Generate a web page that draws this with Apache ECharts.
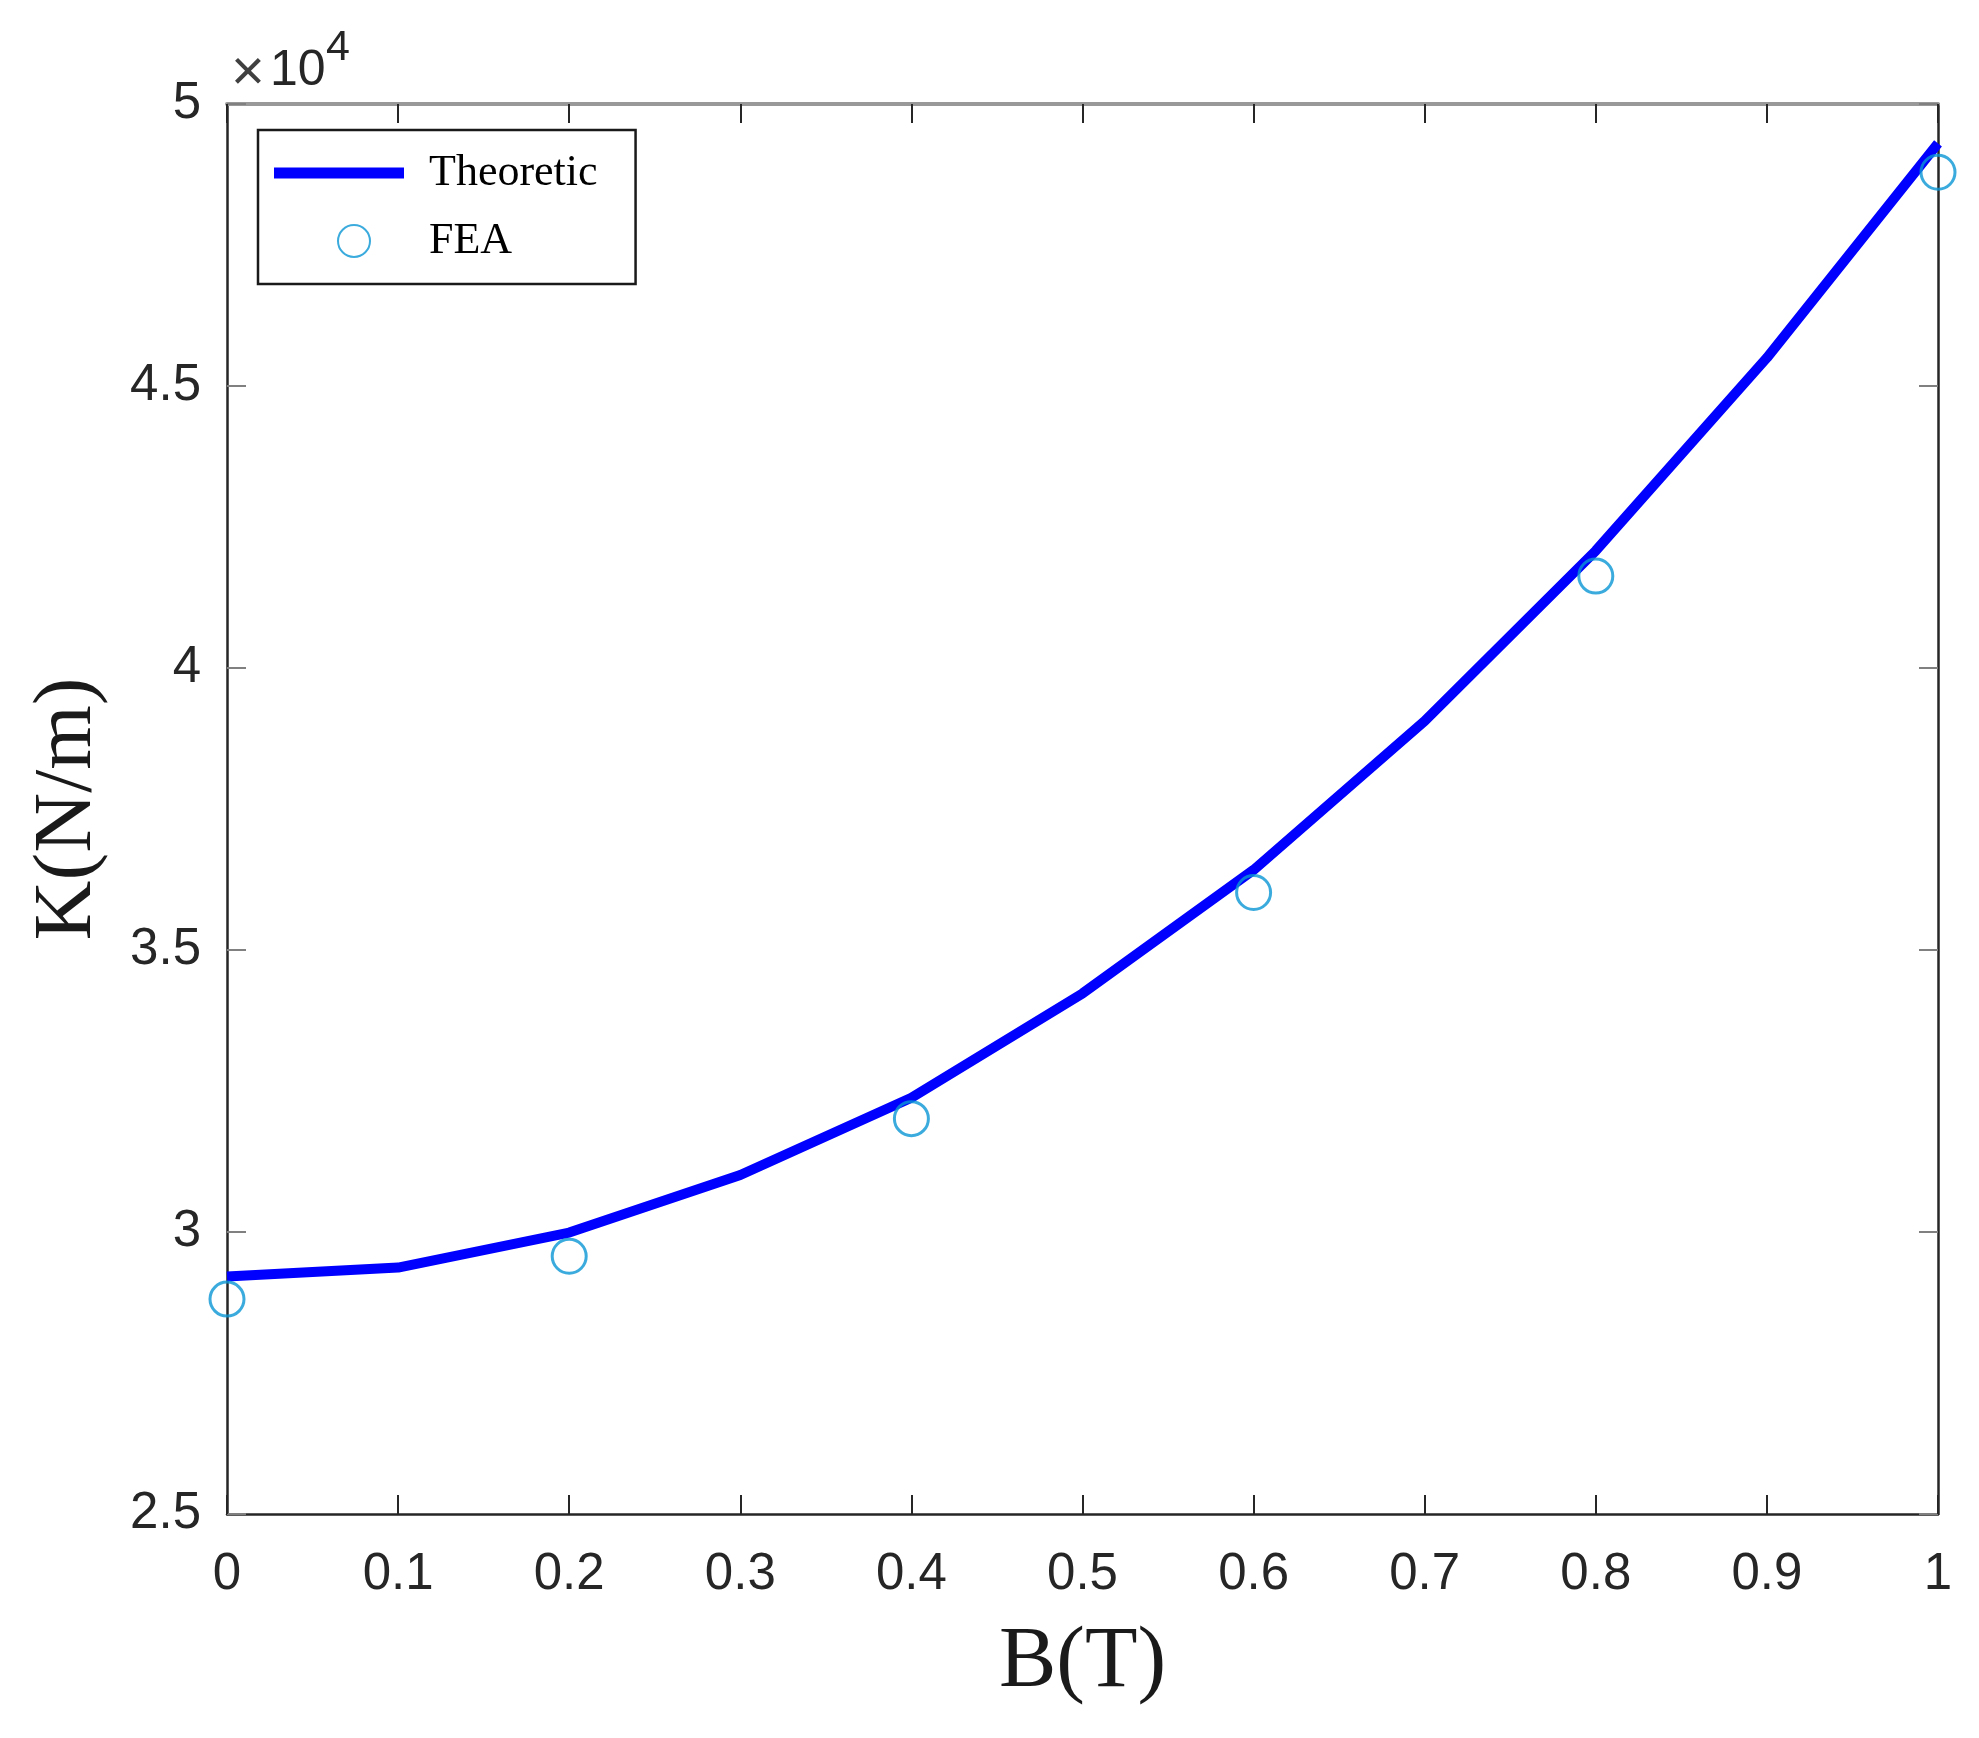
<!DOCTYPE html>
<html>
<head>
<meta charset="utf-8">
<script src="https://cdn.jsdelivr.net/npm/echarts@6/dist/echarts.min.js"></script>
<style>
html,body{margin:0;padding:0;background:#fff;}
#chart{width:1979px;height:1738px;}
</style>
</head>
<body>
<div id="chart"></div>
<script>
// ---- data ----
const theoreticB = [0, 0.1, 0.2, 0.3, 0.4, 0.5, 0.6, 0.7, 0.8, 0.9, 1.0];
const theoreticK = [29210, 29370, 29990, 31010, 32380, 34230, 36420, 39060, 42080, 45500, 49300];
const feaB = [0, 0.2, 0.4, 0.6, 0.8, 1.0];
const feaK = [28810, 29570, 32010, 36020, 41630, 48790];
const xTickLabels = ['0', '0.1', '0.2', '0.3', '0.4', '0.5', '0.6', '0.7', '0.8', '0.9', '1'];
const yTickLabels = ['2.5', '3', '3.5', '4', '4.5', '5'];
const yTickValues = [25000, 30000, 35000, 40000, 45000, 50000];

const chart = echarts.init(document.getElementById('chart'), null, {renderer: 'canvas'});

const sans = 'Liberation Sans, Arial, sans-serif';
const serif = 'Liberation Serif, Times New Roman, serif';

function xFmt(v) {
  const i = Math.round(v * 10);
  return xTickLabels[i] !== undefined ? xTickLabels[i] : '';
}
function yFmt(v) {
  const i = yTickValues.indexOf(Math.round(v));
  return i >= 0 ? yTickLabels[i] : '';
}

const option = {
  backgroundColor: '#ffffff',
  animation: false,
  grid: {left: 227, right: 41, top: 104, bottom: 224, containLabel: false},
  xAxis: [{
    type: 'value', min: 0, max: 1, interval: 0.1,
    name: 'B(T)', nameLocation: 'middle', nameGap: 106,
    nameTextStyle: {fontFamily: serif, fontSize: 86, color: '#1a1a1a'},
    axisLine: {show: true, onZero: false, lineStyle: {color: '#262626', width: 2.5}},
    axisTick: {show: true, inside: true, length: 19, lineStyle: {color: '#262626', width: 2}},
    axisLabel: {formatter: xFmt, fontFamily: sans, fontSize: 51, color: '#262626', margin: 35},
    splitLine: {show: false}
  }, {
    type: 'value', position: 'top', min: 0, max: 1, interval: 0.1,
    axisLine: {show: true, onZero: false, lineStyle: {color: '#999999', width: 4}},
    axisTick: {show: true, inside: true, length: 19, lineStyle: {color: '#262626', width: 2}},
    axisLabel: {show: false},
    splitLine: {show: false}
  }],
  yAxis: [{
    type: 'value', min: 25000, max: 50000, interval: 5000,
    name: 'K(N/m)', nameLocation: 'middle', nameGap: 117,
    nameTextStyle: {fontFamily: serif, fontSize: 83, color: '#1a1a1a'},
    axisLine: {show: true, onZero: false, lineStyle: {color: '#262626', width: 2.5}},
    axisTick: {show: true, inside: true, length: 19, lineStyle: {color: '#808080', width: 2}},
    axisLabel: {formatter: yFmt, fontFamily: sans, fontSize: 51, color: '#262626', margin: 26},
    splitLine: {show: false}
  }, {
    type: 'value', position: 'right', min: 25000, max: 50000, interval: 5000,
    axisLine: {show: true, onZero: false, lineStyle: {color: '#262626', width: 2.5}},
    axisTick: {show: true, inside: true, length: 19, lineStyle: {color: '#808080', width: 2}},
    axisLabel: {show: false},
    splitLine: {show: false}
  }],
  legend: {
    orient: 'vertical',
    left: 258, top: 130,
    padding: [21, 38, 21, 15],
    itemWidth: 130, itemHeight: 34, itemGap: 24,
    borderColor: '#1a1a1a', borderWidth: 2.5,
    backgroundColor: '#ffffff',
    textStyle: {fontFamily: serif, fontSize: 44, color: '#000000', padding: [0, 0, 0, 20]},
    data: [
      {name: 'Theoretic', icon: 'path://M0,0H130V11H0Z', itemStyle: {color: '#0000ff'}},
      {name: 'FEA', icon: 'path://M0,0M130,34M64,17a16,16 0 1,0 32,0a16,16 0 1,0 -32,0Z'}
    ]
  },
  graphic: [
    {type: 'text', left: 231, top: 45, style: {text: '×', font: '58px ' + sans, fill: '#404040'}},
    {type: 'text', left: 270, top: 46, style: {text: '10', font: '50px ' + sans, fill: '#262626'}},
    {type: 'text', left: 326, top: 27, style: {text: '4', font: '43px ' + sans, fill: '#262626'}}
  ],
  series: [{
    name: 'Theoretic', type: 'line', xAxisIndex: 0, yAxisIndex: 0,
    data: theoreticB.map((b, i) => [b, theoreticK[i]]),
    symbol: 'none', smooth: false,
    lineStyle: {color: '#0000ff', width: 10},
    itemStyle: {color: '#0000ff'},
    z: 2
  }, {
    name: 'FEA', type: 'scatter', xAxisIndex: 0, yAxisIndex: 0,
    data: feaB.map((b, i) => [b, feaK[i]]),
    symbol: 'circle', symbolSize: 34,
    itemStyle: {color: 'rgba(255,255,255,0)', borderColor: '#0a96d4', borderWidth: 3},
    z: 3
  }]
};
chart.setOption(option);
</script>
</body>
</html>
